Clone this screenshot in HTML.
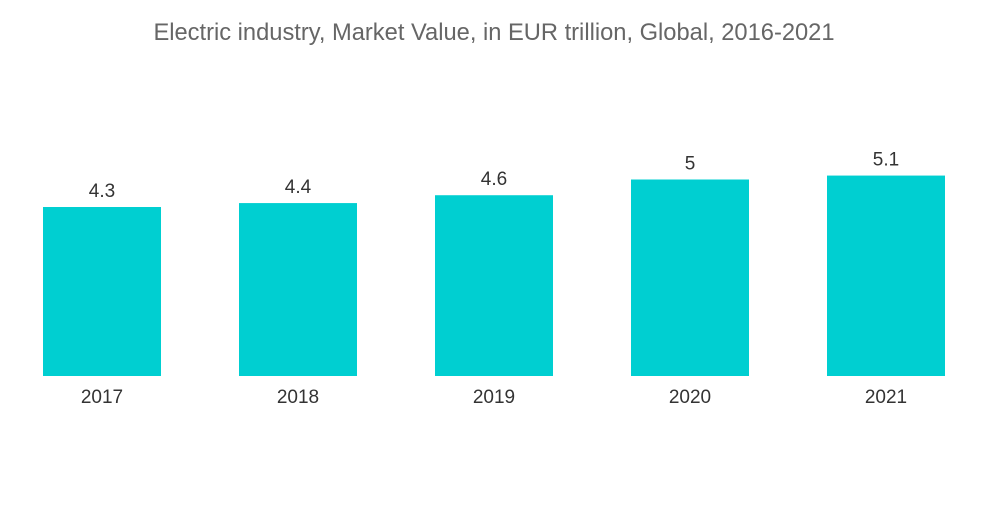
<!DOCTYPE html>
<html><head><meta charset="utf-8"><style>
body{margin:0;background:#fff;width:1000px;height:504px;overflow:hidden;font-family:"Liberation Sans",sans-serif;}
</style></head><body>
<svg width="1000" height="504">
<text x="494" y="40" text-anchor="middle" font-size="23.7" fill="#666">Electric industry, Market Value, in EUR trillion, Global, 2016-2021</text>
<g id="bars"></g>
</svg>
<script>
const categories=["2017","2018","2019","2020","2021"];
const values=[4.3,4.4,4.6,5,5.1];
const labels=["4.3","4.4","4.6","5","5.1"];
const base=376, scale=39.3, x0=43, step=196, bw=118;
function y(v){return base-v*scale;}
function x(i){return x0+i*step;}
const g=document.getElementById('bars');
const ns="http://www.w3.org/2000/svg";
categories.forEach((c,i)=>{
 const r=document.createElementNS(ns,'rect');
 r.setAttribute('x',x(i));r.setAttribute('y',y(values[i]));r.setAttribute('width',bw);r.setAttribute('height',base-y(values[i]));r.setAttribute('fill','#00cfd1');
 
 
 g.appendChild(r);
 const t=document.createElementNS(ns,'text');
 t.setAttribute('x',x(i)+bw/2);t.setAttribute('y',y(values[i])-10);t.setAttribute('text-anchor','middle');t.setAttribute('font-size','19');t.setAttribute('fill','#333');
 t.textContent=labels[i];
 
 
 g.appendChild(t);
 const l=document.createElementNS(ns,'text');
 l.setAttribute('x',x(i)+bw/2);l.setAttribute('y',403);l.setAttribute('text-anchor','middle');l.setAttribute('font-size','19');l.setAttribute('fill','#333');
 l.textContent=c;
 
 
 g.appendChild(l);
});
</script>
</body></html>
